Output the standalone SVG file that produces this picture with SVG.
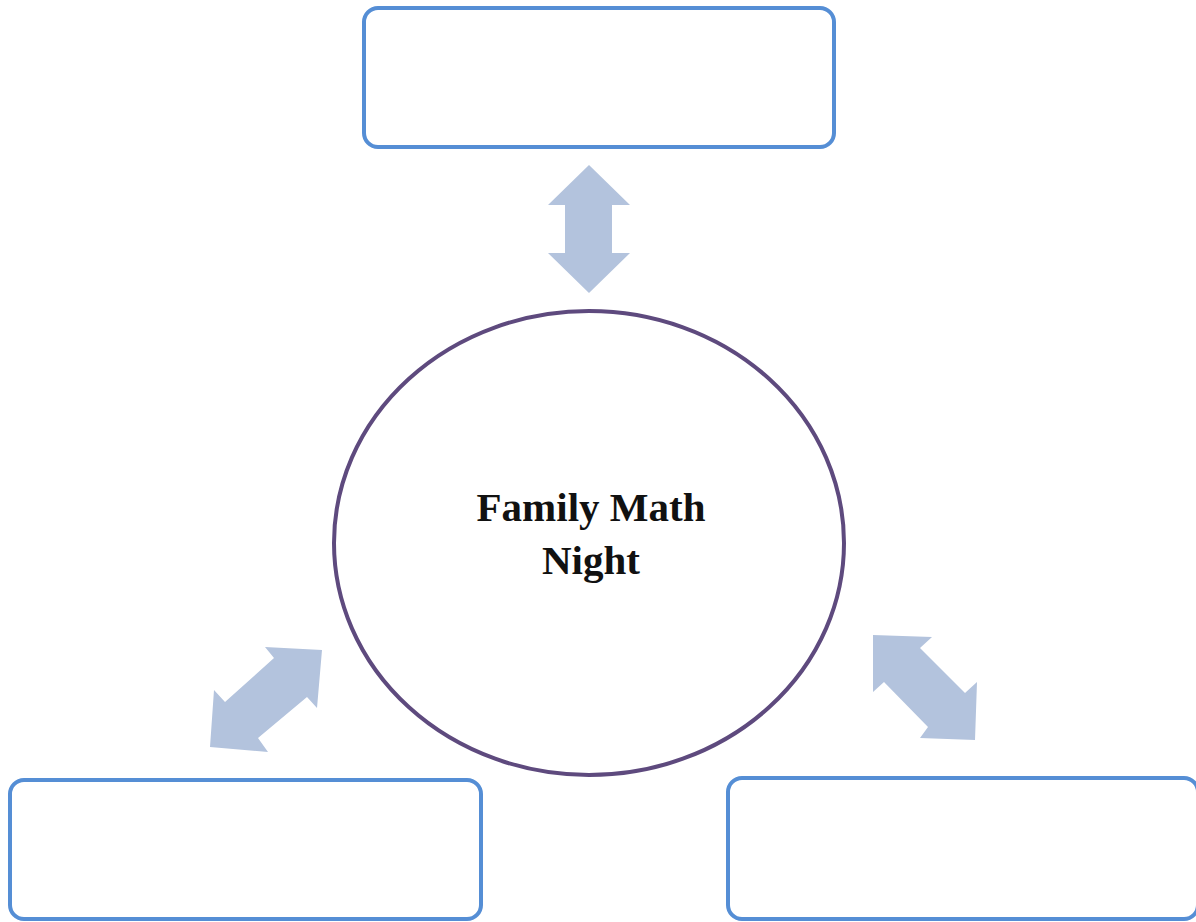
<svg xmlns="http://www.w3.org/2000/svg" width="1196" height="922" viewBox="0 0 1196 922">
<style>
.box{fill:#fff;stroke:#558ed5;stroke-width:4}
.arr{fill:#b3c3dd}
.lbl{font-family:"Liberation Serif",serif;font-weight:bold;font-size:41px;fill:#111;text-anchor:middle}
</style>
<rect width="1196" height="922" fill="#fff"/>
<g id="connectors">
<path class="arr" d="M589,165 L630,205 L612,205 L612,253 L630,253 L589,293 L548,253 L565,253 L565,205 L548,205 Z"/>
<path class="arr" d="M265,647 L322,650 L317,708 L307,697 L258,738 L268,752 L210,747 L214,690 L225,702 L274,658 Z"/>
<path class="arr" d="M873,635 L932,637 L920,648 L965,693 L977,682 L975,740 L920,738 L928,727 L884,682 L873,692 Z"/>
</g>
<g id="top-box"><rect class="box" x="364" y="8" width="470" height="139" rx="14"/></g>
<g id="center">
<ellipse cx="589" cy="543" rx="255" ry="232" fill="#fff" stroke="#5e4a7e" stroke-width="4"/>
<text class="lbl" x="591" y="521">Family Math</text>
<text class="lbl" x="591" y="574">Night</text>
</g>
<g id="bottom-left-box"><rect class="box" x="10" y="780" width="471" height="139" rx="14"/></g>
<g id="bottom-right-box"><rect class="box" x="728" y="778" width="470" height="141" rx="14"/></g>
</svg>
